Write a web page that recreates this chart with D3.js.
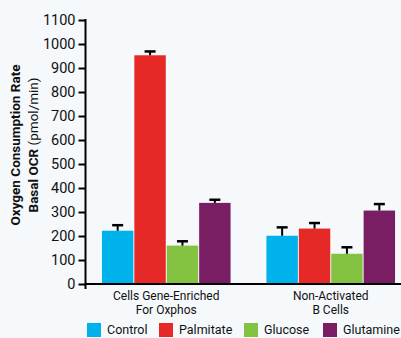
<!DOCTYPE html>
<html>
<head>
<meta charset="utf-8">
<script src="https://cdn.jsdelivr.net/npm/d3@7"></script>
<style>
  html, body { margin: 0; padding: 0; background: #f5f9fc; }
  svg { display: block; font-family: Roboto, "Noto Sans", sans-serif; }
</style>
</head>
<body>
<svg id="chart" width="401" height="338"></svg>
<script>
// Basal oxygen consumption rate per substrate, two cell groups
const groups = ["Cells Gene-Enriched\nFor Oxphos", "Non-Activated\nB Cells"];
const substrates = ["Control", "Palmitate", "Glucose", "Glutamine"];
const colors = ["#00b2ec", "#e52926", "#83c341", "#7a1e63"];
const means = [
  [222, 953, 160, 338],
  [201, 231, 126, 306]
];
const errors = [
  [23, 16, 18, 13],
  [35, 23, 27, 27]
];
const yTicks = [0, 100, 200, 300, 400, 500, 600, 700, 800, 900, 1000, 1100];

const svg = d3.select("#chart");
const axisX = 85.5;

const y = d3.scaleLinear().domain([0, 1100]).range([284, 20]);
const x0 = d3.scaleBand().domain(groups).range([86, 411])
  .paddingInner(0.218).paddingOuter(0.097);
const x1 = d3.scaleBand().domain(substrates).range([0, x0.bandwidth()])
  .paddingInner(0.03);
const color = d3.scaleOrdinal().domain(substrates).range(colors);

// bars
const g = svg.append("g");
groups.forEach((grp, gi) => {
  const gg = g.append("g").attr("transform", `translate(${x0(grp)},0)`);
  const rows = substrates.map((s, si) => ({ s, v: means[gi][si], e: errors[gi][si] }));
  gg.selectAll("rect").data(rows).join("rect")
    .attr("x", d => x1(d.s))
    .attr("width", x1.bandwidth())
    .attr("y", d => y(d.v))
    .attr("height", d => y(0) - y(d.v))
    .attr("fill", d => color(d.s));
  // error bars (upper only)
  const eb = gg.selectAll("g.err").data(rows).join("g").attr("class", "err");
  eb.append("line")
    .attr("x1", d => x1(d.s) + x1.bandwidth() / 2)
    .attr("x2", d => x1(d.s) + x1.bandwidth() / 2)
    .attr("y1", d => y(d.v))
    .attr("y2", d => y(d.v + d.e))
    .attr("stroke", "#000").attr("stroke-width", 2);
  eb.append("line")
    .attr("x1", d => x1(d.s) + x1.bandwidth() / 2 - 5.5)
    .attr("x2", d => x1(d.s) + x1.bandwidth() / 2 + 5.5)
    .attr("y1", d => y(d.v + d.e))
    .attr("y2", d => y(d.v + d.e))
    .attr("stroke", "#000").attr("stroke-width", 2.5);
});

// x axis baseline
svg.append("line")
  .attr("x1", axisX).attr("x2", 401)
  .attr("y1", y(0)).attr("y2", y(0))
  .attr("stroke", "#000").attr("stroke-width", 2);

// y axis
const yAxis = d3.axisLeft(y).tickValues(yTicks).tickFormat(d3.format("d"))
  .tickSize(7).tickPadding(3).tickSizeOuter(0);
const ya = svg.append("g").attr("transform", `translate(${axisX},0)`).call(yAxis);
ya.select(".domain").remove();
ya.append("line").attr("x1", 0).attr("x2", 0).attr("y1", y(1100) - 1).attr("y2", 289)
  .attr("stroke", "#000").attr("stroke-width", 2);
ya.selectAll(".tick line").attr("stroke", "#000").attr("stroke-width", 2);
ya.selectAll(".tick text").attr("font-size", 14.5).attr("fill", "#111")
  .attr("font-family", "Roboto, sans-serif");

// y axis title
const yt = svg.append("text")
  .attr("transform", `translate(0,145) rotate(-90)`)
  .attr("text-anchor", "middle").attr("font-size", 13.5).attr("fill", "#111");
yt.append("tspan").attr("x", 0).attr("y", 20).attr("font-weight", "bold")
  .text("Oxygen Consumption Rate");
const l2 = yt.append("tspan").attr("x", 0).attr("y", 38);
l2.append("tspan").attr("font-weight", "bold").text("Basal OCR ");
l2.append("tspan").text("(pmol/min)");

// category labels
groups.forEach(grp => {
  const cx = x0(grp) + x0.bandwidth() / 2;
  const t = svg.append("text").attr("text-anchor", "middle")
    .attr("font-size", 12).attr("fill", "#111");
  grp.split("\n").forEach((line, i) => {
    t.append("tspan").attr("x", cx).attr("y", 300 + i * 14).text(line);
  });
});

// legend
const legendX = [87, 159, 244, 323];
const lg = svg.append("g");
substrates.forEach((s, i) => {
  lg.append("rect").attr("x", legendX[i]).attr("y", 323)
    .attr("width", 14).attr("height", 14).attr("fill", color(s));
  lg.append("text").attr("x", legendX[i] + 20).attr("y", 334)
    .attr("font-size", 12.5).attr("fill", "#111").text(s);
});
</script>
</body>
</html>
